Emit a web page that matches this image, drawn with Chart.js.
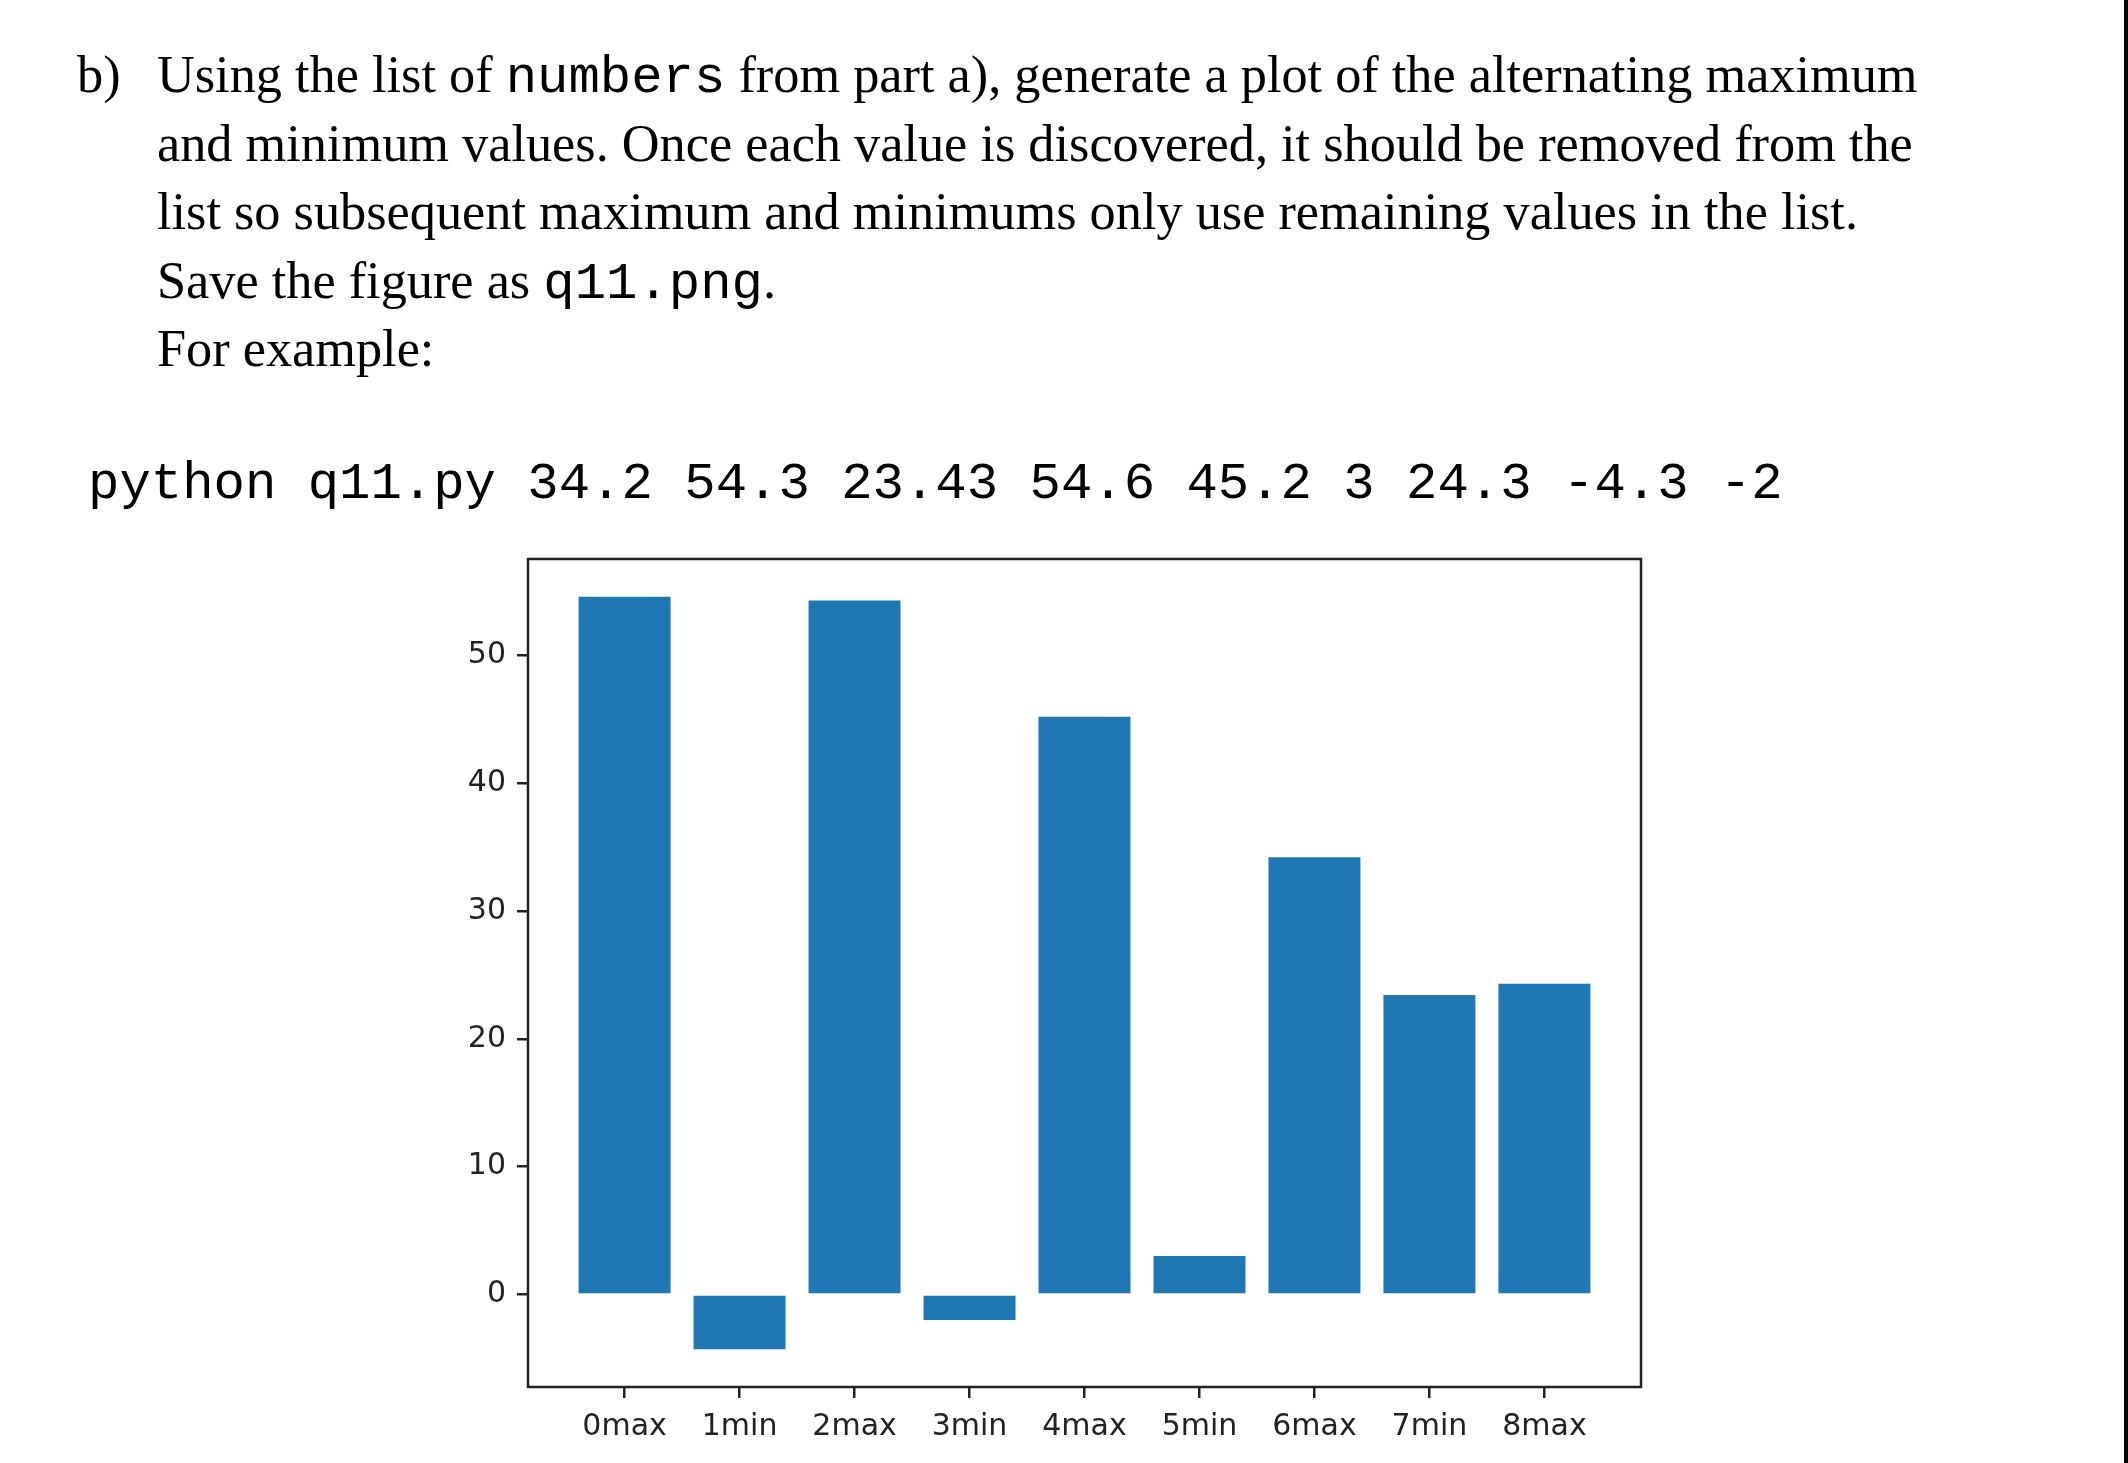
<!DOCTYPE html>
<html>
<head>
<meta charset="utf-8">
<script src="https://cdn.jsdelivr.net/npm/chart.js@4.4.1/dist/chart.umd.min.js"></script>
<style>
    html, body { margin: 0; padding: 0; background: #fff; }
    body { width: 2128px; height: 1463px; position: relative; overflow: hidden; }
    .txt { position: absolute; font-family: "Liberation Serif", serif; font-size: 52.3px; line-height: 68.5px; color: #000; white-space: nowrap; }
    .mono { font-family: "Liberation Mono", monospace; line-height: 0; }
    #cmd { position: absolute; left: 88px; top: 454px; font-family: "Liberation Mono", monospace; font-size: 52.3px; line-height: 60px; white-space: nowrap; color: #000; }
    #edge { position: absolute; right: 0; top: 0; width: 4px; height: 100%; background: #000; }
    #chartBox { position: absolute; left: 400px; top: 530px; }
</style>
</head>
<body>
<div class="txt" style="left:77px; top:40px;">b)</div>
<div class="txt" style="left:157px; top:40px;">
    Using the list of <span class="mono">numbers</span> from part a), generate a plot of the alternating maximum<br>
    and minimum values. Once each value is discovered, it should be removed from the<br>
    list so subsequent maximum and minimums only use remaining values in the list.<br>
    Save the figure as <span class="mono">q11.png</span>.<br>
    For example:
</div>
<div id="cmd">python q11.py 34.2 54.3 23.43 54.6 45.2 3 24.3 -4.3 -2</div>
<div id="chartBox"><canvas id="barChart" width="1330" height="933"></canvas></div>
<div id="edge"></div>
<script>
// values found by alternating max / min on the example list
const labels = ['0max', '1min', '2max', '3min', '4max', '5min', '6max', '7min', '8max'];
const values = [54.6, -4.3, 54.3, -2, 45.2, 3, 34.2, 23.43, 24.3];
const yTicks = [0, 10, 20, 30, 40, 50];

const barColor = '#1f77b4';
const inkColor = '#222';

//matplotlib style frame around the plot area
const framePlugin = {
    id: 'frame',
    afterDraw(chart) {
        const a = chart.chartArea;
        const ctx = chart.ctx;
        ctx.save();
        ctx.strokeStyle = inkColor;
        ctx.lineWidth = 2.5;
        ctx.strokeRect(a.left, a.top, a.right - a.left, a.bottom - a.top);
        ctx.restore();
    }
};

const ctx = document.getElementById('barChart').getContext('2d');
const chart = new Chart(ctx, {
    type: 'bar',
    data: {
        datasets: [{
            data: values.map((v, i) => ({ x: i, y: v })),
            backgroundColor: barColor,
            borderWidth: 0,
            categoryPercentage: 1,
            barPercentage: 0.8
        }]
    },
    options: {
        responsive: false,
        animation: false,
        devicePixelRatio: 1,
        layout: { padding: { left: 0, top: 28, right: 89, bottom: 0 } },
        plugins: { legend: { display: false }, tooltip: { enabled: false } },
        scales: {
            x: {
                type: 'linear',
                min: -0.84,
                max: 8.84,
                offset: false,
                afterBuildTicks: (scale) => { scale.ticks = labels.map((l, i) => ({ value: i })); },
                afterFit: (scale) => { scale.height = 76; },
                border: { display: false },
                grid: { offset: false, drawOnChartArea: false, drawTicks: true, tickLength: 11, color: inkColor, lineWidth: 2.5 },
                ticks: {
                    autoSkip: false,
                    maxRotation: 0,
                    padding: 11,
                    color: inkColor,
                    font: { family: 'DejaVu Sans', size: 30 },
                    callback: (v) => labels[v]
                }
            },
            y: {
                min: -7.245,
                max: 57.545,
                afterBuildTicks: (scale) => { scale.ticks = yTicks.map(v => ({ value: v })); },
                afterFit: (scale) => { scale.width = 128; },
                border: { display: false },
                grid: { drawOnChartArea: false, drawTicks: true, tickLength: 11, color: inkColor, lineWidth: 2.5 },
                ticks: {
                    padding: 11,
                    color: inkColor,
                    font: { family: 'DejaVu Sans', size: 30 }
                }
            }
        }
    },
    plugins: [framePlugin]
});
</script>
</body>
</html>
